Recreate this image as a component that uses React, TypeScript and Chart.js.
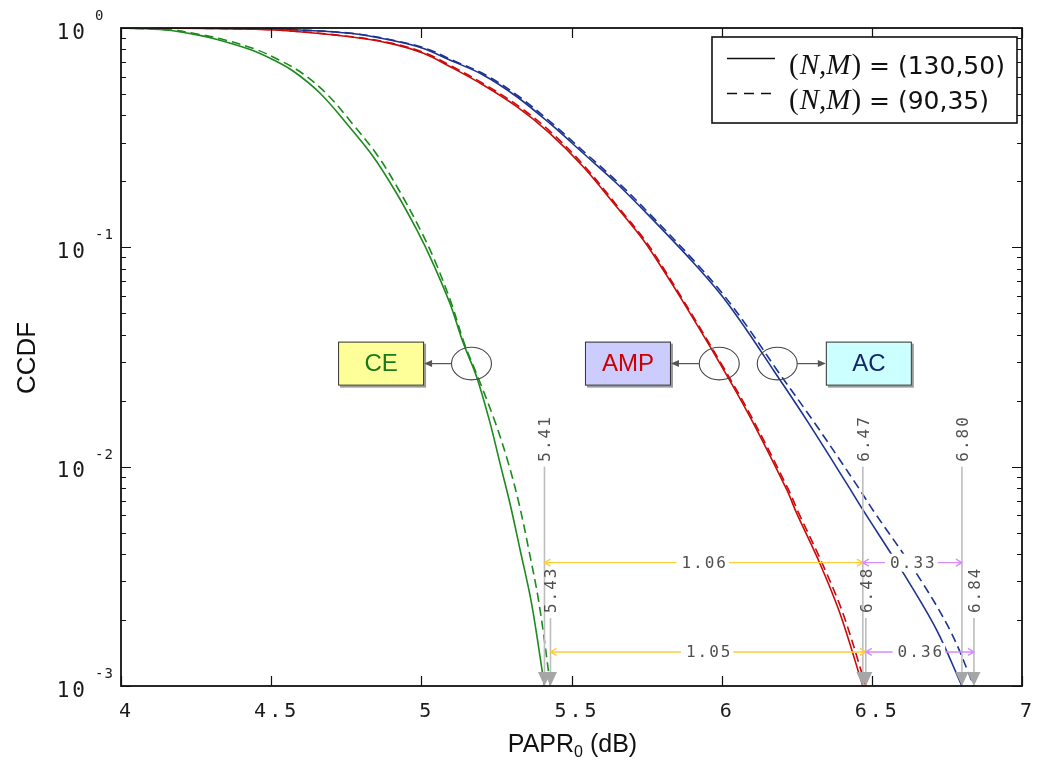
import React, { useEffect, useRef } from "react";
import { Chart, registerables } from "chart.js";

Chart.register(...registerables);

// CCDF of PAPR0 for the CE, AMP and AC schemes, two (N,M) settings
const ceX130 = [4.0, 4.15, 4.25, 4.32, 4.43, 4.5, 4.574, 4.663, 4.751, 4.84, 4.918, 4.985, 5.034, 5.095, 5.14, 5.184, 5.229, 5.262, 5.295, 5.329, 5.367, 5.41];
const ceX90 = [4.0, 4.165, 4.265, 4.34, 4.45, 4.518, 4.594, 4.683, 4.77, 4.857, 4.932, 4.997, 5.044, 5.1, 5.143, 5.188, 5.247, 5.29, 5.325, 5.358, 5.392, 5.43];
const ceCcdf = [1, 0.9795, 0.933, 0.887, 0.798, 0.724, 0.635, 0.504, 0.367, 0.259, 0.176, 0.12, 0.0875, 0.0556, 0.0365, 0.0257, 0.0158, 0.01035, 0.00681, 0.00417, 0.00238, 0.001];

const ampX130 = [4.0, 4.3, 4.518, 4.762, 4.896, 5.007, 5.095, 5.206, 5.318, 5.428, 5.539, 5.65, 5.739, 5.784, 5.861, 5.994, 6.094, 6.217, 6.25, 6.327, 6.394, 6.47];
const ampX90 = [4.0, 4.3, 4.522, 4.769, 4.904, 5.015, 5.103, 5.214, 5.326, 5.436, 5.545, 5.655, 5.744, 5.789, 5.865, 5.998, 6.099, 6.223, 6.257, 6.335, 6.404, 6.48];
const ampCcdf = [1, 0.9954, 0.9795, 0.912, 0.851, 0.767, 0.667, 0.55, 0.438, 0.331, 0.233, 0.153, 0.108, 0.0875, 0.0596, 0.0296, 0.0169, 0.00783, 0.00612, 0.00362, 0.00214, 0.001];

const acX130 = [4.0, 4.5, 4.596, 4.762, 4.896, 5.007, 5.095, 5.206, 5.318, 5.428, 5.539, 5.65, 5.761, 5.906, 6.0, 6.083, 6.172, 6.283, 6.416, 6.472, 6.605, 6.716, 6.8];
const acX90 = [4.0, 4.5, 4.599, 4.767, 4.903, 5.015, 5.103, 5.214, 5.326, 5.436, 5.547, 5.658, 5.769, 5.914, 6.008, 6.093, 6.184, 6.303, 6.446, 6.505, 6.648, 6.76, 6.84];
const acCcdf = [1, 0.9931, 0.9795, 0.946, 0.881, 0.807, 0.714, 0.611, 0.486, 0.367, 0.2685, 0.196, 0.138, 0.0851, 0.0603, 0.042, 0.0276, 0.0163, 0.00839, 0.0063, 0.00327, 0.0018, 0.001];

// PAPR0 read at CCDF = 1e-3 (CE, AMP, AC)
const markers130 = [5.41, 6.47, 6.8];
const markers90 = [5.43, 6.48, 6.84];

const xTicks = [4, 4.5, 5, 5.5, 6, 6.5, 7];
const xTickLabels = ["4", "4.5", "5", "5.5", "6", "6.5", "7"];
const yDecades = [0, -1, -2, -3];

const legendLabels = ["(130,50)", "(90,35)"];

const GREEN = "#1d8a1d";
const RED = "#cc0a0a";
const BLUE = "#1d3392";

const MONO = '"DejaVu Sans Mono", monospace';
const SANS = '"Liberation Sans", Arial, sans-serif';

const pts = (xs: number[], ys: number[]) => xs.map((x, i) => ({ x, y: ys[i] }));

const series = (label: string, xs: number[], ys: number[], color: string, dashed: boolean) => ({
  label,
  data: pts(xs, ys),
  borderColor: color,
  borderWidth: 1.6,
  borderDash: dashed ? [9, 5] : [],
  pointRadius: 0,
  fill: false,
  tension: 0.35,
});

// callout boxes with their rings on the curves
const calloutLevel = 0.0295;
const callouts = [
  { text: "CE", box: 4.866, ring: 5.167, fill: "#ffff99", color: "#1a7a1a" },
  { text: "AMP", box: 5.688, ring: 5.992, fill: "#ccccff", color: "#cc0000" },
  { text: "AC", box: 6.49, ring: 6.185, fill: "#ccffff", color: "#14266e" },
];

const markerRows = [
  { values: markers130, lineTop: 0.01, arrowAt: 0.00365 },
  { values: markers90, lineTop: 0.00204, arrowAt: 0.00143 },
];

function monoText(ctx: CanvasRenderingContext2D, size: number, spacing: number) {
  ctx.font = `${size}px ${MONO}`;
  (ctx as any).letterSpacing = `${spacing}px`;
}

const decorations = {
  id: "decorations",
  afterDraw(chart: any) {
    const ctx: CanvasRenderingContext2D = chart.ctx;
    const xs = chart.scales.x;
    const ys = chart.scales.y;
    const px = (v: number) => xs.getPixelForValue(v);
    const py = (v: number) => ys.getPixelForValue(v);
    const { left, right, top, bottom } = chart.chartArea;

    ctx.save();

    // ---- annotations: marker lines, span arrows, callouts
    markerRows.forEach((row) => {
      const yTop = py(row.lineTop);
      row.values.forEach((v) => {
        const x = px(v);
        ctx.strokeStyle = "#bdbdbd";
        ctx.lineWidth = 1.6;
        ctx.beginPath();
        ctx.moveTo(x, yTop);
        ctx.lineTo(x, bottom - 12);
        ctx.stroke();
        ctx.fillStyle = "#a6a6a6";
        ctx.beginPath();
        ctx.moveTo(x - 6.5, bottom - 14);
        ctx.lineTo(x + 6.5, bottom - 14);
        ctx.lineTo(x, bottom);
        ctx.closePath();
        ctx.fill();
        // rotated value label
        ctx.save();
        ctx.translate(x + 6, yTop - 5);
        ctx.rotate(-Math.PI / 2);
        monoText(ctx, 16, 2);
        ctx.fillStyle = "#505050";
        ctx.textAlign = "left";
        ctx.textBaseline = "alphabetic";
        ctx.fillText(v.toFixed(2), 0, 0);
        ctx.restore();
      });

      const yA = py(row.arrowAt);
      const spans = [
        { a: row.values[0], b: row.values[1], color: "#ffcc3a" },
        { a: row.values[1], b: row.values[2], color: "#d48cff" },
      ];
      spans.forEach((s) => {
        const x1 = px(s.a);
        const x2 = px(s.b);
        ctx.strokeStyle = s.color;
        ctx.lineWidth = 1.4;
        ctx.beginPath();
        ctx.moveTo(x1, yA);
        ctx.lineTo(x2, yA);
        ctx.moveTo(x1 + 6, yA - 3.5);
        ctx.lineTo(x1, yA);
        ctx.lineTo(x1 + 6, yA + 3.5);
        ctx.moveTo(x2 - 6, yA - 3.5);
        ctx.lineTo(x2, yA);
        ctx.lineTo(x2 - 6, yA + 3.5);
        ctx.stroke();
        const label = (s.b - s.a).toFixed(2);
        monoText(ctx, 16, 2);
        const w = ctx.measureText(label).width;
        const cx = (x1 + x2) / 2;
        ctx.fillStyle = "#ffffff";
        ctx.fillRect(cx - w / 2 - 4, yA - 9, w + 6, 18);
        ctx.fillStyle = "#505050";
        ctx.textAlign = "center";
        ctx.textBaseline = "middle";
        ctx.fillText(label, cx + 1, yA + 1);
      });
    });
    (ctx as any).letterSpacing = "0px";

    const yc = py(calloutLevel);
    const bw = 86;
    const bh = 44;
    const rx = 20;
    const ry = 16.3;
    callouts.forEach((c) => {
      const bx = px(c.box);
      const rxc = px(c.ring);
      // box with a soft shadow
      ctx.fillStyle = "#9a9a9a";
      ctx.fillRect(bx - bw / 2 + 2, yc - bh / 2 + 2, bw, bh);
      ctx.fillStyle = c.fill;
      ctx.fillRect(bx - bw / 2, yc - bh / 2, bw, bh);
      ctx.strokeStyle = "#333";
      ctx.lineWidth = 1;
      ctx.strokeRect(bx - bw / 2 + 0.5, yc - bh / 2 + 0.5, bw - 1, bh - 1);
      ctx.fillStyle = c.color;
      ctx.font = `24px ${SANS}`;
      ctx.textAlign = "center";
      ctx.textBaseline = "middle";
      ctx.fillText(c.text, bx, yc + 1);
      // ring
      ctx.strokeStyle = "#444";
      ctx.lineWidth = 1.1;
      ctx.beginPath();
      ctx.ellipse(rxc, yc, rx, ry, 0, 0, Math.PI * 2);
      ctx.stroke();
      // pointer from ring to box
      const dir = bx < rxc ? -1 : 1;
      const xs0 = rxc + dir * rx;
      const xe = bx - dir * (bw / 2);
      ctx.strokeStyle = "#555";
      ctx.lineWidth = 1.2;
      ctx.beginPath();
      ctx.moveTo(xs0, yc);
      ctx.lineTo(xe - dir * 6, yc);
      ctx.stroke();
      ctx.fillStyle = "#555";
      ctx.beginPath();
      ctx.moveTo(xe, yc);
      ctx.lineTo(xe - dir * 8, yc - 3.5);
      ctx.lineTo(xe - dir * 8, yc + 3.5);
      ctx.closePath();
      ctx.fill();
    });

    // ---- frame and inward ticks
    ctx.strokeStyle = "#111";
    ctx.lineWidth = 1.2;
    ctx.beginPath();
    xTicks.forEach((t) => {
      const x = Math.round(px(t)) + 0.5;
      ctx.moveTo(x, bottom);
      ctx.lineTo(x, bottom - 10);
      ctx.moveTo(x, top);
      ctx.lineTo(x, top + 10);
    });
    yDecades.forEach((d) => {
      const y = Math.round(py(Math.pow(10, d))) + 0.5;
      ctx.moveTo(left, y);
      ctx.lineTo(left + 10, y);
      ctx.moveTo(right, y);
      ctx.lineTo(right - 10, y);
      if (d > -3) {
        for (let m = 2; m <= 9; m++) {
          const ym = Math.round(py(m * Math.pow(10, d - 1))) + 0.5;
          ctx.moveTo(left, ym);
          ctx.lineTo(left + 5, ym);
          ctx.moveTo(right, ym);
          ctx.lineTo(right - 5, ym);
        }
      }
    });
    ctx.stroke();
    ctx.lineWidth = 1.8;
    ctx.strokeRect(left, top, right - left, bottom - top);

    // ---- tick labels
    ctx.fillStyle = "#1a1a1a";
    ctx.textBaseline = "alphabetic";
    monoText(ctx, 20, 3);
    ctx.textAlign = "center";
    xTicks.forEach((t, i) => {
      ctx.fillText(xTickLabels[i], px(t) + 5.5, bottom + 31);
    });
    yDecades.forEach((d) => {
      const y = py(Math.pow(10, d));
      monoText(ctx, 21, 3);
      ctx.textAlign = "right";
      ctx.fillText("10", 88, y + 10.5);
      monoText(ctx, 14, 1);
      ctx.textAlign = "left";
      ctx.fillText(d === 0 ? "0" : `-${-d}`, 95, y - 8);
    });
    (ctx as any).letterSpacing = "0px";

    // ---- axis titles
    ctx.fillStyle = "#111";
    ctx.save();
    ctx.translate(35, (top + bottom) / 2 + 1);
    ctx.rotate(-Math.PI / 2);
    ctx.font = `26px ${SANS}`;
    ctx.textAlign = "center";
    ctx.fillText("CCDF", 0, 0);
    ctx.restore();

    const main = "PAPR";
    const sub = "0";
    const tail = " (dB)";
    ctx.font = `25px ${SANS}`;
    const wMain = ctx.measureText(main).width;
    const wTail = ctx.measureText(tail).width;
    ctx.font = `16px ${SANS}`;
    const wSub = ctx.measureText(sub).width;
    let tx = (left + right) / 2 + 1 - (wMain + wSub + wTail) / 2;
    const tb = bottom + 66;
    ctx.textAlign = "left";
    ctx.font = `25px ${SANS}`;
    ctx.fillText(main, tx, tb);
    tx += wMain;
    ctx.font = `16px ${SANS}`;
    ctx.fillText(sub, tx, tb + 5);
    tx += wSub;
    ctx.font = `25px ${SANS}`;
    ctx.fillText(tail, tx, tb);

    // ---- legend
    const lx = right - 310;
    const ly = top + 9;
    const lw = 305;
    const lh = 86;
    ctx.fillStyle = "#fff";
    ctx.fillRect(lx, ly, lw, lh);
    ctx.strokeStyle = "#111";
    ctx.lineWidth = 1.6;
    ctx.strokeRect(lx, ly, lw, lh);
    legendLabels.forEach((lab, i) => {
      const yl = ly + 21.5 + i * 35;
      ctx.strokeStyle = "#111";
      ctx.lineWidth = 1.6;
      ctx.setLineDash(i === 0 ? [] : [10, 7]);
      ctx.beginPath();
      ctx.moveTo(lx + 15, yl);
      ctx.lineTo(lx + 63, yl);
      ctx.stroke();
      ctx.setLineDash([]);
      const base = yl + 15;
      let x = lx + 77;
      ctx.fillStyle = "#111";
      ctx.textAlign = "left";
      ctx.font = `29px "Liberation Serif", serif`;
      ctx.fillText("(", x, base);
      x += ctx.measureText("(").width + 1;
      ctx.font = `italic 29px "Liberation Serif", serif`;
      ctx.fillText("N,M", x, base);
      x += ctx.measureText("N,M").width + 1;
      ctx.font = `29px "Liberation Serif", serif`;
      ctx.fillText(")", x, base);
      x += ctx.measureText(")").width;
      ctx.font = `25px "DejaVu Sans", sans-serif`;
      ctx.fillText(` = ${lab}`, x, base);
    });

    ctx.restore();
  },
};

export default function App() {
  const ref = useRef<HTMLCanvasElement>(null);

  useEffect(() => {
    const chart = new Chart(ref.current as HTMLCanvasElement, {
      type: "line",
      data: {
        datasets: [
          series("CE (130,50)", ceX130, ceCcdf, GREEN, false),
          series("CE (90,35)", ceX90, ceCcdf, GREEN, true),
          series("AMP (130,50)", ampX130, ampCcdf, RED, false),
          series("AMP (90,35)", ampX90, ampCcdf, RED, true),
          series("AC (130,50)", acX130, acCcdf, BLUE, false),
          series("AC (90,35)", acX90, acCcdf, BLUE, true),
        ] as any,
      },
      options: {
        responsive: false,
        animation: false,
        devicePixelRatio: 1,
        layout: { padding: { left: 121, top: 28, right: 18, bottom: 83 } },
        scales: {
          x: { type: "linear", min: 4, max: 7, display: false },
          y: { type: "logarithmic", min: 0.001, max: 1, display: false },
        },
        plugins: {
          legend: { display: false },
          tooltip: { enabled: false },
        },
      } as any,
      plugins: [decorations],
    });
    return () => chart.destroy();
  }, []);

  return (
    <canvas
      ref={ref}
      width={1040}
      height={769}
      style={{ position: "fixed", left: 0, top: 0, display: "block", background: "#fff" }}
    />
  );
}
